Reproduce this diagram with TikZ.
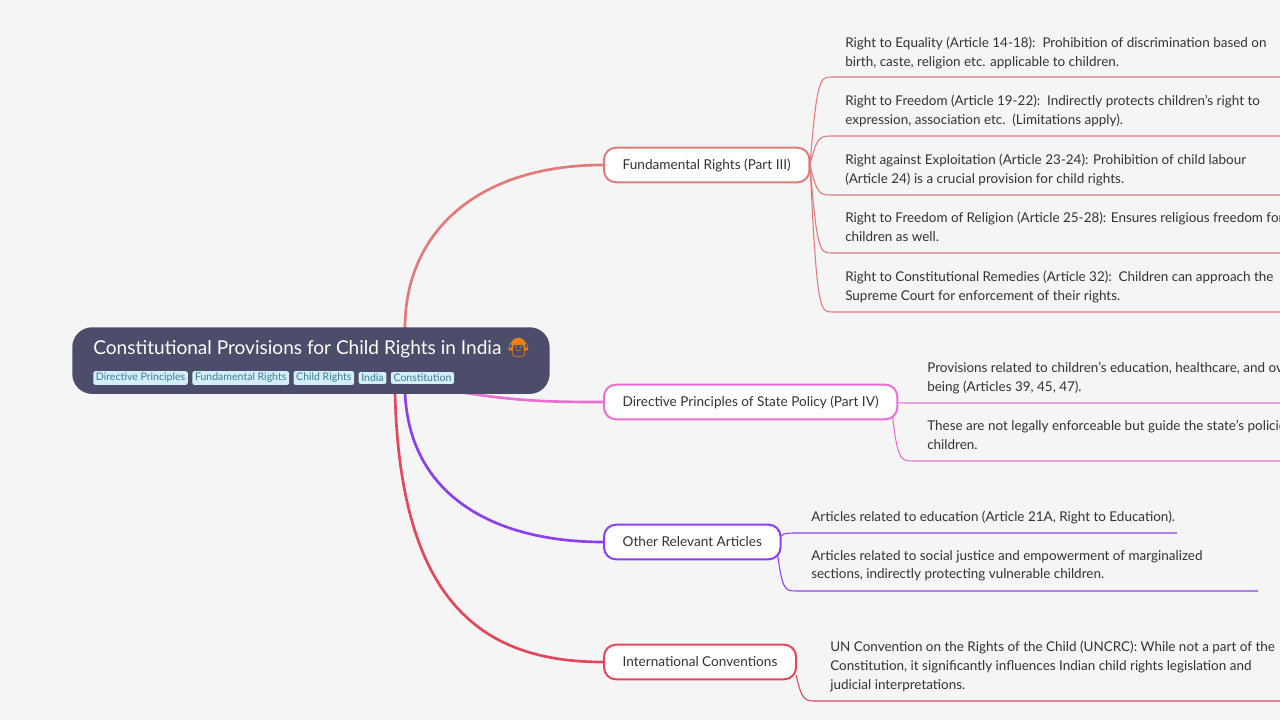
\documentclass[tikz,border=0pt]{standalone}
\usepackage{fontspec}
\setmainfont{Lato}
\newfontfamily\emo{Noto Emoji}
\usetikzlibrary{positioning}
\pgfdeclarelayer{bglayer}
\pgfdeclarelayer{edges}
\pgfsetlayers{bglayer,edges,main}
\definecolor{bg}{HTML}{F5F5F5}
\definecolor{rootc}{HTML}{4B4D6B}
\definecolor{txt}{HTML}{333333}
\definecolor{cfr}{HTML}{E07B7B}
\definecolor{cdp}{HTML}{E970D2}
\definecolor{cor}{HTML}{8B3FF0}
\definecolor{cic}{HTML}{E4475B}
\definecolor{tagf}{HTML}{D3EEF7}
\definecolor{tagt}{HTML}{3B7D98}
\tikzset{
 mid/.style={draw=#1,line width=1.5pt,fill=white,rounded corners=9pt,minimum height=26pt,inner xsep=14pt,font=\fontsize{10.2}{12}\selectfont,text=txt},
 leaf/.style={anchor=north west,align=left,inner sep=0pt,font=\fontsize{10.1}{14}\selectfont,text=txt},
 tag/.style={fill=tagf,text=tagt,rounded corners=1.5pt,inner xsep=2pt,inner ysep=1.5pt,font=\fontsize{7.9}{9}\selectfont,anchor=west},
 lk/.style={draw=#1,line width=0.8pt},
 br/.style={draw=#1,line width=2pt}
}
\begin{document}
\begin{tikzpicture}[x=0.75pt,y=-0.75pt]
\begin{pgfonlayer}{bglayer}
\fill[bg] (0,0) rectangle (1280,720);
\end{pgfonlayer}
\useasboundingbox (0,0) rectangle (1280,720);
% root
\node[fill=rootc,rounded corners=15pt,minimum width=358pt,minimum height=50pt,anchor=north west] (root) at (72,327) {};
\node[anchor=west,text=white,inner sep=0pt,font=\fontsize{14.3}{18}\selectfont] (title) at (93,348) {Constitutional Provisions for Child Rights in India {\emo\color{orange!70!brown}👧}};
\node[tag] (t1) at (93,378) {Directive Principles};
\node[tag,right=3pt of t1] (t2) {Fundamental Rights};
\node[tag,right=3pt of t2] (t3) {Child Rights};
\node[tag,right=3pt of t3] (t4) {India};
\node[tag,right=3pt of t4] (t5) {Constitution};
% mid nodes
\node[mid=cfr,anchor=west] (fr) at (603,165) {Fundamental Rights (Part III)};
\node[mid=cdp,anchor=west] (dp) at (603,402) {Directive Principles of State Policy (Part IV)};
\node[mid=cor,anchor=west] (or) at (603,542) {Other Relevant Articles};
\node[mid=cic,anchor=west] (ic) at (603,662) {International Conventions};
\coordinate (r1) at (405,328);
\coordinate (r2) at (460,392);
\coordinate (r3) at (405,393);
\coordinate (r4) at (395,393);
\begin{pgfonlayer}{edges}
\draw[br=cfr] (r1) .. controls (405,230) and (480,165) .. (fr.west);
\draw[br=cdp] (r2) .. controls (520,402) and (560,402) .. (dp.west);
\draw[br=cor] (r3) .. controls (410,500) and (500,542) .. (or.west);
\draw[br=cic] (r4) .. controls (400,600) and (480,662) .. (ic.west);
\end{pgfonlayer}
% FR leaves
\node[leaf] (f1) at (845,37) {Right to Equality (Article 14-18):\ \ Prohibition of discrimination based on\\birth, caste, religion etc. applicable to children.};
\node[leaf] (f2) at (845,95) {Right to Freedom (Article 19-22):\ \ Indirectly protects children's right to\\expression, association etc.\ \ (Limitations apply).};
\node[leaf] (f3) at (845,154) {Right against Exploitation (Article 23-24): Prohibition of child labour\\(Article 24) is a crucial provision for child rights.};
\node[leaf] (f4) at (845,212) {Right to Freedom of Religion (Article 25-28): Ensures religious freedom for\\children as well.};
\node[leaf] (f5) at (845,271) {Right to Constitutional Remedies (Article 32):\ \ Children can approach the\\Supreme Court for enforcement of their rights.};
\coordinate (fs) at (810,165);
\begin{pgfonlayer}{edges}
\foreach \y/\n in {77/1,136/2,195/3,253/4,312/5}{
 \coordinate (fa\n) at (832,\y); \coordinate (fb\n) at (1280,\y);
 \draw[lk=cfr] (fs) .. controls (817,\y) and (820,\y) .. (fa\n) -- (fb\n);
}
\end{pgfonlayer}
% DP leaves
\node[leaf] (d1) at (927,362) {Provisions related to children's education, healthcare, and overall well-\\being (Articles 39, 45, 47).};
\node[leaf] (d2) at (927,420) {These are not legally enforceable but guide the state's policies for\\children.};
\coordinate (ds) at (891,402);
\begin{pgfonlayer}{edges}
\foreach \y/\n in {403/1,461/2}{
 \coordinate (da\n) at (913,\y); \coordinate (db\n) at (1280,\y);
 \draw[lk=cdp] (ds) .. controls (897,\y) and (900,\y) .. (da\n) -- (db\n);
}
\end{pgfonlayer}
% Other leaves
\node[leaf] (o1) at (811,511) {Articles related to education (Article 21A, Right to Education).};
\node[leaf] (o2) at (811,550) {Articles related to social justice and empowerment of marginalized\\sections, indirectly protecting vulnerable children.};
\coordinate (os) at (776,542);
\coordinate (oa1) at (797,533); \coordinate (ob1) at (1177,533);
\coordinate (oa2) at (797,591); \coordinate (ob2) at (1258,591);
\begin{pgfonlayer}{edges}
\draw[lk=cor] (os) .. controls (782,533) and (784,533) .. (oa1) -- (ob1);
\draw[lk=cor] (os) .. controls (782,591) and (784,591) .. (oa2) -- (ob2);
\end{pgfonlayer}
% IC leaf
\node[leaf] (i1) at (830,641) {UN Convention on the Rights of the Child (UNCRC): While not a part of the\\Constitution, it significantly influences Indian child rights legislation and\\judicial interpretations.};
\coordinate (is) at (796,675);
\coordinate (ia1) at (816,701); \coordinate (ib1) at (1280,701);
\begin{pgfonlayer}{edges}
\draw[lk=cic] (is) .. controls (802,701) and (805,701) .. (ia1) -- (ib1);
\end{pgfonlayer}
\end{tikzpicture}
\end{document}
